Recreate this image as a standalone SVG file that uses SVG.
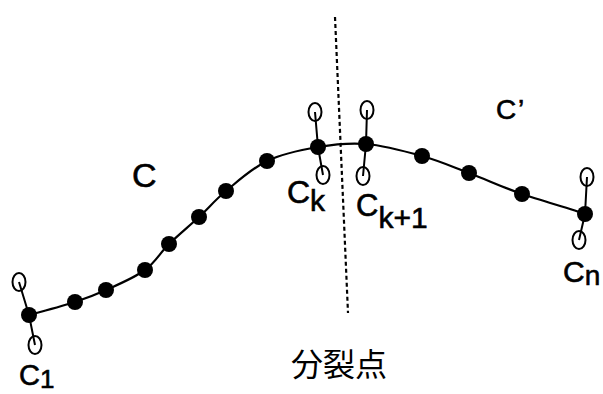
<svg xmlns="http://www.w3.org/2000/svg" width="603" height="394" viewBox="0 0 603 394">
<style>
.curve{fill:none;stroke:#000;stroke-width:2.2}
.h{stroke:#000;stroke-width:2;fill:none}
.e{fill:none;stroke:#000;stroke-width:2}
.d{fill:#000}
.lbl{font-family:"Liberation Sans",Arial,sans-serif;fill:#000;stroke:#000;stroke-width:0.6}
.cjk{font-family:"Noto Sans CJK JP","Noto Sans CJK SC",sans-serif;fill:#000}
</style>
<rect width="603" height="394" fill="#fff"/>
<g id="connectors">
<path id="curve" class="curve" d="M29,315 C36.7,312.8 62.2,306.2 75,302 C87.8,297.8 94.3,295.3 106,290 C117.7,284.7 134.5,277.7 145,270 C155.5,262.3 160,252.8 169,244 C178,235.2 189.5,225.8 199,217 C208.5,208.2 214.7,200.3 226,191 C237.3,181.7 251.7,168.3 267,161 C282.3,153.7 301.5,149.8 318,147 C334.5,144.2 348.7,142.5 366,144 C383.3,145.5 404.8,151.2 422,156 C439.2,160.8 452.3,166.7 469,173 C485.7,179.3 502.7,187.3 522,194 C541.3,200.7 574.5,209.8 585,214"/>
<line id="split" x1="335" y1="17" x2="348" y2="313" stroke="#000" stroke-width="2.2" stroke-dasharray="4 3"/>
</g>
<g id="c1">
<path class="h" d="M19,282 L29,315 L35,345"/>
<ellipse class="e" cx="19" cy="282" rx="6.5" ry="9"/>
<ellipse class="e" cx="35" cy="345" rx="6.5" ry="9"/>
<circle class="d" cx="29" cy="315" r="8"/>
</g>
<g id="pts">
<circle class="d" cx="75" cy="302" r="8"/>
<circle class="d" cx="106" cy="290" r="8"/>
<circle class="d" cx="145" cy="270" r="8"/>
<circle class="d" cx="169" cy="244" r="8"/>
<circle class="d" cx="199" cy="217" r="8"/>
<circle class="d" cx="226" cy="191" r="8"/>
<circle class="d" cx="267" cy="161" r="8"/>
<circle class="d" cx="422" cy="156" r="8"/>
<circle class="d" cx="469" cy="173" r="8"/>
<circle class="d" cx="522" cy="194" r="8"/>
</g>
<g id="ck">
<path class="h" d="M315,112 L318,147 L323,175"/>
<ellipse class="e" cx="315" cy="112" rx="6.5" ry="9"/>
<ellipse class="e" cx="323" cy="175" rx="6.5" ry="9"/>
<circle class="d" cx="318" cy="147" r="8"/>
</g>
<g id="ck1">
<path class="h" d="M367,110 L366,144 L363,176"/>
<ellipse class="e" cx="367" cy="110" rx="6.5" ry="9"/>
<ellipse class="e" cx="363" cy="176" rx="6.5" ry="9"/>
<circle class="d" cx="366" cy="144" r="8"/>
</g>
<g id="cn">
<path class="h" d="M587,177 L585,214 L579,240"/>
<ellipse class="e" cx="587" cy="177" rx="6.5" ry="9"/>
<ellipse class="e" cx="579" cy="240" rx="6.5" ry="9"/>
<circle class="d" cx="585" cy="214" r="8"/>
</g>
<g id="labels">
<text class="lbl" x="132" y="187" font-size="34">C</text>
<text class="lbl" x="496" y="119" font-size="28">C</text>
<text class="lbl" x="518" y="119" font-size="28">’</text>
<text class="lbl" x="287" y="203" font-size="32">C<tspan font-size="30" dy="8">k</tspan></text>
<text class="lbl" x="356" y="216" font-size="31">C<tspan font-size="30" dy="12">k+1</tspan></text>
<text class="lbl" x="19" y="385" font-size="29">C<tspan font-size="26" dy="3">1</tspan></text>
<text class="lbl" x="563" y="282" font-size="30">C<tspan font-size="28" dy="3">n</tspan></text>
<text class="cjk" x="291" y="376" font-size="32">分裂点</text>
</g>
</svg>
